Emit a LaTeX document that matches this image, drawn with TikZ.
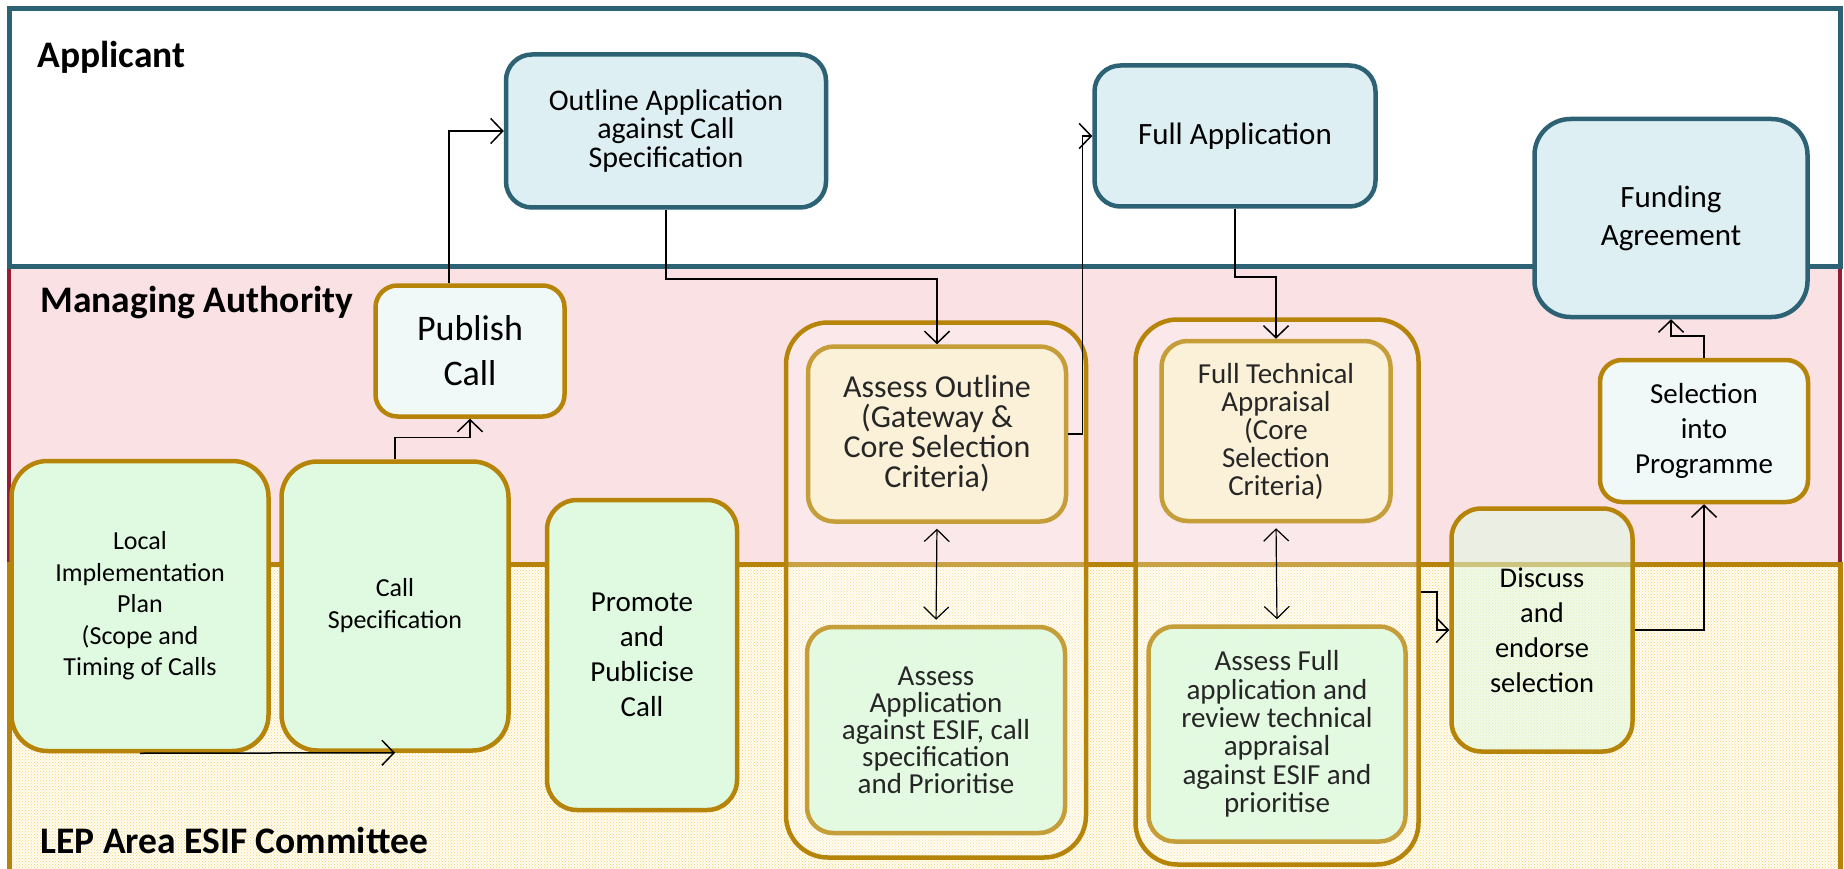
\documentclass[tikz,border=0pt]{standalone}
\usepackage{fontspec}
\setmainfont{Carlito}
\usetikzlibrary{arrows.meta,patterns}
\definecolor{laneblue}{RGB}{44,98,116}
\definecolor{boxblue}{RGB}{222,239,243}
\definecolor{gold}{RGB}{182,132,8}
\definecolor{mapink}{RGB}{250,225,228}
\definecolor{maroon}{RGB}{150,30,50}
\definecolor{boxgreen}{RGB}{224,250,225}
\definecolor{boxpale}{RGB}{240,249,248}
\definecolor{boxyellow}{RGB}{252,243,214}
\definecolor{lepcream}{RGB}{255,252,242}
\definecolor{lepdot}{RGB}{248,210,110}
\newcommand{\bxfont}[2]{\fontsize{#1}{#2}\selectfont}

\begin{document}
\begin{tikzpicture}[x=1pt, y=-1pt,
    lanetitle/.style={anchor=base west, font=\bfseries\bxfont{37.5}{40}},
    box/.style={rounded corners=26pt, line width=4.5pt, align=center, inner sep=0pt},
    appbox/.style={box, draw=laneblue, fill=boxblue},
    mabox/.style={box, draw=gold, fill=boxpale, rounded corners=22pt},
    lepbox/.style={box, draw=gold, fill=boxgreen, rounded corners=36pt},
    inbox/.style={box, draw=gold!80, fill opacity=0.88, text opacity=1, text=black!85},
    grpbox/.style={box, draw=gold, fill=white, fill opacity=0.25, rounded corners=42pt},
    arr/.style={-{Straight Barb[length=12pt,width=25pt]}, line width=1.5pt},
    biarr/.style={{Straight Barb[length=12pt,width=25pt]}-{Straight Barb[length=12pt,width=25pt]},
        line width=1.2pt, shorten <=5pt, shorten >=5pt}]
    \useasboundingbox (0,0) rectangle (1844,869);
    \fill[mapink] (9,266) rectangle (1840,564);
    \draw[maroon, line width=4pt] (9,266) -- (9,564) (1840,266) -- (1840,564);
    \fill[lepcream] (9,564) rectangle (1840,875);
    \fill[pattern=crosshatch dots, pattern color=lepdot] (9,564) rectangle (1840,875);
    \draw[gold, line width=5pt] (9,875) -- (9,564) -- (1840,564) -- (1840,875);
    \draw[laneblue, line width=5pt, fill=white] (9,9) rectangle (1840,266);
    \node[lanetitle] (applicant) at (34,68) {Applicant};
    \node[lanetitle] (managing) at (37,312) {Managing Authority};
    \node[lanetitle] (lep) at (37,853) {LEP Area ESIF Committee};

    \node[grpbox, minimum width=300pt, minimum height=535pt] (grp1) at (936,590) {};
    \node[grpbox, minimum width=283pt, minimum height=545pt] (grp2) at (1277,592) {};

    \node[appbox, minimum width=320pt, minimum height=153pt, font=\bxfont{30}{28.5}]
        (outline) at (666,131) {Outline Application\\against Call\\Specification};
    \node[appbox, minimum width=281pt, minimum height=141pt, font=\bxfont{31}{36}]
        (fullapp) at (1235,136) {Full Application};
    \node[appbox, minimum width=273pt, minimum height=198pt, rounded corners=36pt, font=\bxfont{31}{38}]
        (funding) at (1671,218) {Funding\\Agreement};
    \node[mabox, minimum width=189pt, minimum height=131pt, font=\bxfont{36}{45}]
        (publish) at (470,351) {Publish\\Call};
    \node[mabox, minimum width=208pt, minimum height=142pt, font=\bxfont{29}{35}]
        (selection) at (1704,431) {Selection\\into\\Programme};
    \node[lepbox, minimum width=257pt, minimum height=290pt, font=\bxfont{26}{31.5}]
        (lip) at (140,606) {Local\\Implementation\\Plan\\(Scope and\\Timing of Calls};
    \node[lepbox, minimum width=227pt, minimum height=289pt, font=\bxfont{26}{32}]
        (callspec) at (395,606) {Call\\Specification};
    \node[lepbox, minimum width=190pt, minimum height=310pt, rounded corners=30pt, font=\bxfont{29}{35}]
        (promote) at (642,655) {Promote\\and\\Publicise\\Call};
    \node[inbox, fill=boxyellow, minimum width=258pt, minimum height=175pt, font=\bxfont{32}{30}]
        (assessout) at (937,434) {Assess Outline\\(Gateway \&\\Core Selection\\Criteria)};
    \node[inbox, fill=boxgreen, minimum width=258pt, minimum height=206pt, font=\bxfont{29}{27}]
        (assessapp) at (936,730) {Assess\\Application\\against ESIF, call\\specification\\and Prioritise};
    \node[inbox, fill=boxyellow, minimum width=229pt, minimum height=180pt, font=\bxfont{29}{28}]
        (fta) at (1276,431) {Full Technical\\Appraisal\\(Core\\Selection\\Criteria)};
    \node[inbox, fill=boxgreen, minimum width=257pt, minimum height=215pt, font=\bxfont{29}{28.3}]
        (assessfull) at (1277,734) {Assess Full\\application and\\review technical\\appraisal\\against ESIF and\\prioritise};
    \node[box, draw=gold, fill=boxgreen, fill opacity=0.55, text opacity=1, minimum width=181pt,
        minimum height=243pt, rounded corners=30pt, font=\bxfont{28.5}{35}]
        (discuss) at (1542,630) {Discuss\\and\\endorse\\selection};

    \draw[arr] (lip.south) -- (callspec.south);
    \draw[arr] (callspec.north) -- ++(0,-22) -| (publish.south);
    \draw[arr] ([xshift=-21pt]publish.north) |- (outline.west);
    \draw[arr] (outline.south) -- ++(0,69) -| (assessout.north);
    \draw[arr] (assessout.east) -- ++(14,0) |- (fullapp.west);
    \draw[arr] (fullapp.south) -- ++(0,68) -| (fta.north);
    \draw[biarr] (assessout.south) -- (assessapp.north);
    \draw[biarr] (fta.south) -- (assessfull.north);
    \draw[arr] (grp2.east) -- ++(16,0) |- (discuss.west);
    \draw[arr] (discuss.east) -| (selection.south);
    \draw[arr] (selection.north) -- ++(0,-22) -| (funding.south);
\end{tikzpicture}
\end{document}
